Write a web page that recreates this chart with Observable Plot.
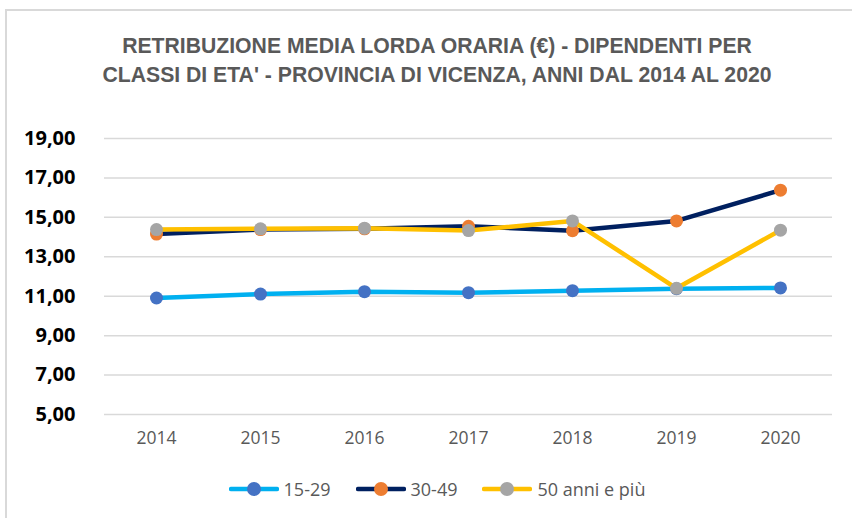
<!DOCTYPE html>
<html><head><meta charset="utf-8">
<script src="https://cdn.jsdelivr.net/npm/d3@7"></script>
<script src="https://cdn.jsdelivr.net/npm/@observablehq/plot@0.6"></script>
<style>
body{margin:0;background:#fff;}
#wrap{position:relative;width:852px;height:518px;overflow:hidden;background:#fff;}
#frame{position:absolute;left:5px;top:9px;width:900px;height:600px;border-left:2px solid #d9d9d9;border-top:2px solid #d9d9d9;}
#title{position:absolute;left:0;width:874px;top:31px;text-align:center;font-family:"Liberation Sans Narrow","Arial Narrow",sans-serif;font-weight:bold;font-size:21.2px;line-height:29px;color:#595959;}
#chart{position:absolute;left:0;top:100px;}
#legend{position:absolute;left:0;width:874px;top:477px;display:flex;justify-content:center;gap:25px;font-family:"Open Sans",sans-serif;font-size:18px;color:#595959;}
.item{display:flex;align-items:center;gap:5px;}
</style></head>
<body><div id="wrap"><div id="frame"></div>
<div id="title">RETRIBUZIONE MEDIA LORDA ORARIA (€) - DIPENDENTI PER<br>CLASSI DI ETA' - PROVINCIA DI VICENZA, ANNI DAL 2014 AL 2020</div>
<div id="chart"></div><div id="legend"></div></div>
<script>
const years = ["2014","2015","2016","2017","2018","2019","2020"];
const seriesNames = ["15-29","30-49","50 anni e più"];
const s1529 = [10.91, 11.11, 11.23, 11.18, 11.28, 11.38, 11.42];
const s3049 = [14.15, 14.38, 14.42, 14.55, 14.32, 14.82, 16.38];
const s50 = [14.38, 14.42, 14.45, 14.33, 14.82, 11.40, 14.35];
const yTicks = [5, 7, 9, 11, 13, 15, 17, 19];
const lineColors = ["#00B0F0", "#002060", "#FFC000"];
const dotColors = ["#4472C4", "#ED7D31", "#A5A5A5"];

const allSeries = [s1529, s3049, s50];
const fmt = d => d.toFixed(2).replace(".", ",");
const marks = [Plot.ruleY(yTicks, {stroke: "#d9d9d9", strokeWidth: 1.5})];
allSeries.forEach((vals, i) => {
  const data = years.map((y, j) => ({year: y, value: vals[j]}));
  marks.push(Plot.line(data, {x: "year", y: "value", stroke: lineColors[i], strokeWidth: 4.5}));
  marks.push(Plot.dot(data, {x: "year", y: "value", r: 6.5, fill: dotColors[i], stroke: "none"}));
});

const chart = Plot.plot({
  width: 852, height: 360,
  marginLeft: 104, marginRight: 20, marginTop: 38, marginBottom: 46,
  x: {type: "point", domain: years, padding: 0.5, label: null, tickSize: 0, tickPadding: 18},
  y: {domain: [5, 19], ticks: yTicks, tickFormat: fmt, label: null, tickSize: 0, tickPadding: 29},
  style: {fontFamily: "'Open Sans', sans-serif", background: "transparent", overflow: "visible"},
  marks: [
    ...marks,
    Plot.axisX({tickSize: 0, tickPadding: 17, fontSize: 17.5, color: "#595959", label: null}),
    Plot.axisY({ticks: yTicks, tickFormat: fmt, tickSize: 0, tickPadding: 29, fontSize: 20, fontWeight: "bold", color: "#000", label: null})
  ]
});
document.getElementById("chart").appendChild(chart);

const legend = document.getElementById("legend");
seriesNames.forEach((n, i) => {
  const it = document.createElement("div");
  it.className = "item";
  it.innerHTML = `<svg width="50" height="16"><line x1="2" y1="8" x2="48" y2="8" stroke="${lineColors[i]}" stroke-width="4.5" stroke-linecap="round"/><circle cx="25" cy="8" r="7" fill="${dotColors[i]}"/></svg><span>${n}</span>`;
  legend.appendChild(it);
});
</script></body></html>
